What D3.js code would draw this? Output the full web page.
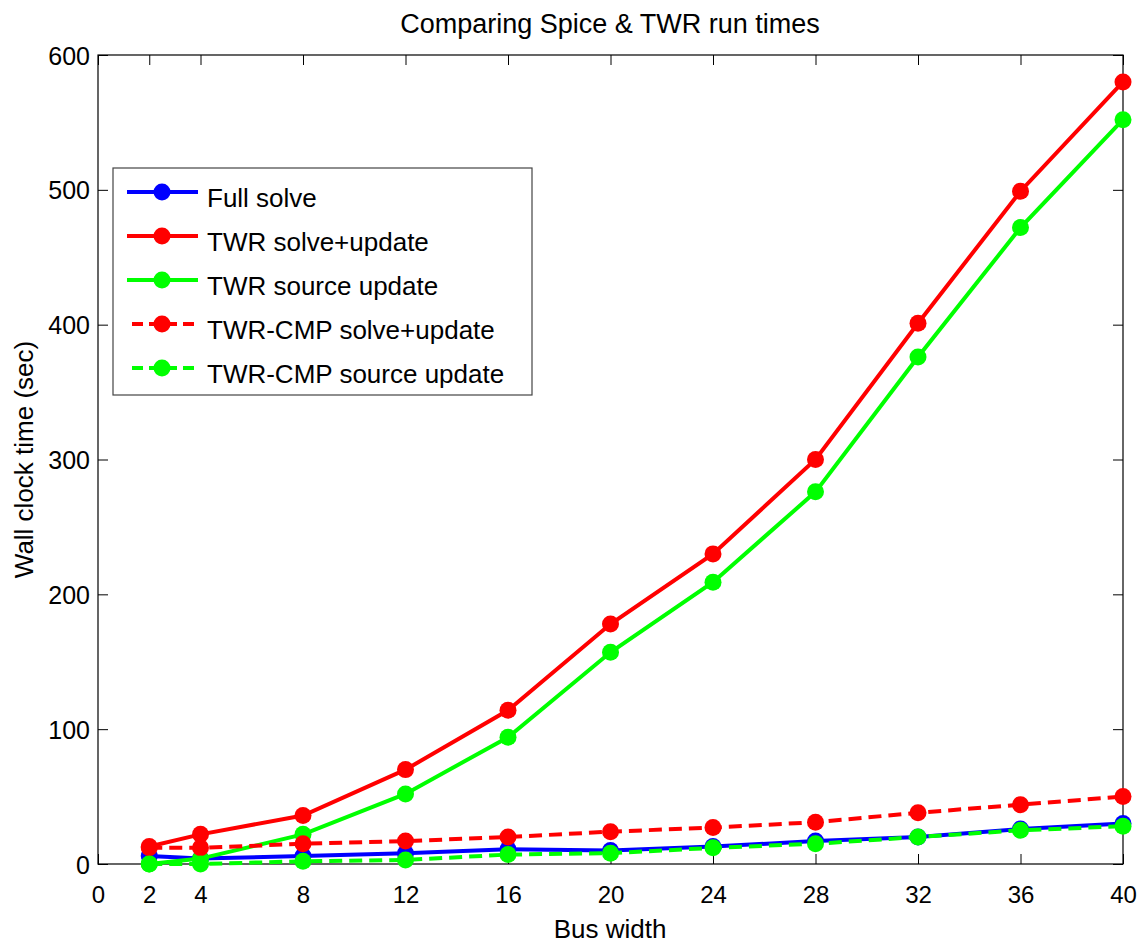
<!DOCTYPE html>
<html lang="en">
<head>
    <meta charset="UTF-8">
    <title>Comparing Spice & TWR run times</title>
    <script src="https://cdn.jsdelivr.net/npm/d3@7"></script>
    <style>
        body { margin: 0; background: #fff; }
        svg text { font-family: "Liberation Sans", Arial, sans-serif; fill: #000; }
    </style>
</head>
<body>
    <div id="chart"></div>
    <script>
        // bus widths on the x axis
        let busWidth = [2, 4, 8, 12, 16, 20, 24, 28, 32, 36, 40]
        let xTicks = [0, 2, 4, 8, 12, 16, 20, 24, 28, 32, 36, 40]
        let yTicks = [0, 100, 200, 300, 400, 500, 600]

        // wall clock seconds
        let fullSolve = [6, 4, 6, 8, 11, 10, 13, 17, 20, 26, 30]
        let twrSolve = [13, 22, 36, 70, 114, 178, 230, 300, 401, 499, 580]
        let twrSource = [0, 4, 22, 52, 94, 157, 209, 276, 376, 472, 552]
        let cmpSolve = [12, 12, 15, 17, 20, 24, 27, 31, 38, 44, 50]
        let cmpSource = [0, 0, 2, 3, 7, 8, 12, 15, 20, 25, 28]

        let seriesNames = ['Full solve', 'TWR solve+update', 'TWR source update',
                           'TWR-CMP solve+update', 'TWR-CMP source update']
        let seriesValues = [fullSolve, twrSolve, twrSource, cmpSolve, cmpSource]
        let seriesColors = ['#0000ff', '#ff0000', '#00ff00', '#ff0000', '#00ff00']
        let seriesDash = [null, null, null, '13,7', '13,7']

        let w = 1142
        let h = 943
        let pLeft = 98, pRight = 1123, pTop = 55, pBottom = 864

        let svg = d3.select('#chart').append('svg')
                    .attr('width', w)
                    .attr('height', h)

        let xScale = d3.scaleLinear().domain([0, 40]).range([pLeft, pRight])
        let yScale = d3.scaleLinear().domain([0, 600]).range([pBottom, pTop])

        // box
        svg.append('rect')
           .attr('x', pLeft).attr('y', pTop)
           .attr('width', pRight - pLeft).attr('height', pBottom - pTop)
           .attr('fill', 'none').attr('stroke', '#000').attr('stroke-width', 1.2)

        // axes, ticks pointing in
        let xAxis = d3.axisBottom(xScale).tickValues(xTicks).tickSizeInner(-10).tickSizeOuter(0)
        let yAxis = d3.axisLeft(yScale).tickValues(yTicks).tickSizeInner(-10).tickSizeOuter(0).tickPadding(8)
        let xTop = d3.axisTop(xScale).tickValues(xTicks).tickSizeInner(-10).tickSizeOuter(0).tickFormat('')
        let yRight = d3.axisRight(yScale).tickValues(yTicks).tickSizeInner(-10).tickSizeOuter(0).tickFormat('')

        let gx = svg.append('g').attr('transform', `translate(0,${pBottom})`).call(xAxis)
        let gy = svg.append('g').attr('transform', `translate(${pLeft},0)`).call(yAxis)
        svg.append('g').attr('transform', `translate(0,${pTop})`).call(xTop)
        svg.append('g').attr('transform', `translate(${pRight},0)`).call(yRight)

        svg.selectAll('.domain').remove()
        svg.selectAll('.tick line').attr('stroke', '#000').attr('stroke-width', 1)
        gx.selectAll('text').style('font-size', '24px')
          .attr('y', 39).attr('dy', null)
        gy.selectAll('text').style('font-size', '25px').attr('dy', '0.36em')

        // titles
        svg.append('text').attr('x', 610).attr('y', 33)
           .attr('text-anchor', 'middle').style('font-size', '27px')
           .text('Comparing Spice & TWR run times')
        svg.append('text').attr('x', 610).attr('y', 938)
           .attr('text-anchor', 'middle').style('font-size', '26px')
           .text('Bus width')
        svg.append('text')
           .attr('transform', `translate(33,${(pTop + pBottom) / 2}) rotate(-90)`)
           .attr('text-anchor', 'middle').style('font-size', '26px')
           .text('Wall clock time (sec)')

        let line = d3.line()
                     .x((d, i) => xScale(busWidth[i]))
                     .y(d => yScale(d))

        // draw the series, last one on top
        seriesValues.forEach((vals, k) => {
            svg.append('path')
               .datum(vals)
               .attr('d', line)
               .attr('fill', 'none')
               .attr('stroke', seriesColors[k])
               .attr('stroke-width', 4)
               .attr('stroke-dasharray', seriesDash[k])
            svg.append('g').selectAll('circle')
               .data(vals)
               .enter()
               .append('circle')
               .attr('cx', (d, i) => xScale(busWidth[i]))
               .attr('cy', d => yScale(d))
               .attr('r', 8.5)
               .attr('fill', seriesColors[k])
        })

        // legend
        let legend = svg.append('g')
        legend.append('rect')
              .attr('x', 113).attr('y', 168)
              .attr('width', 419).attr('height', 227)
              .attr('fill', '#fff').attr('stroke', '#444').attr('stroke-width', 1.2)

        seriesNames.forEach((name, k) => {
            let y = 192 + k * 44
            legend.append('line')
                  .attr('x1', seriesDash[k] ? 132 : 127).attr('x2', 198)
                  .attr('y1', y).attr('y2', y)
                  .attr('stroke', seriesColors[k]).attr('stroke-width', 4)
                  .attr('stroke-dasharray', seriesDash[k] ? '11,6' : null)
            legend.append('circle')
                  .attr('cx', 162).attr('cy', y).attr('r', 8.5)
                  .attr('fill', seriesColors[k])
            legend.append('text')
                  .attr('x', 207).attr('y', y + 15)
                  .style('font-size', '26px')
                  .text(name)
        })
    </script>
</body>
</html>
